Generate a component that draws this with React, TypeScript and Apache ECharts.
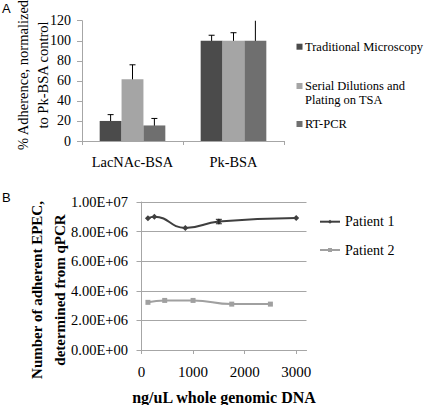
import React, { useEffect, useRef } from 'react';
import * as echarts from 'echarts';

// ---- Panel A data ----
const categoriesA = ['LacNAc-BSA', 'Pk-BSA'];
const seriesNamesA = ['Traditional Microscopy', 'Serial Dilutions and\nPlating on TSA', 'RT-PCR'];
const microscopy = [20, 100];
const microscopyErr = [6.3, 5.5];
const dilutions = [61.5, 100];
const dilutionsErr = [14.5, 8];
const rtpcr = [15.5, 100];
const rtpcrErr = [7, 30];
const yTicksA = [0, 20, 40, 60, 80, 100, 120];

// ---- Panel B data ----
const patient1X = [125, 250, 850, 1500, 3000];
const patient1Y = [8.9e6, 9.0e6, 8.25e6, 8.68e6, 8.92e6];
const patient1Err = [0, 0, 0, 1.5e5, 0];
const patient2X = [125, 450, 1000, 1750, 2500];
const patient2Y = [3.22e6, 3.35e6, 3.35e6, 3.1e6, 3.1e6];
const xTicksB = [0, 1000, 2000, 3000];
const yTicksB = [0, 2e6, 4e6, 6e6, 8e6, 1e7];

const SERIF = "'Liberation Serif'";
const SANS = "'Liberation Sans'";
const AXIS_GRAY = '#a6a6a6';
const barColors = ['#4b4b4b', '#a5a5a5', '#6f6f6f'];

const sci = (v: number) => {
  if (v === 0) return '0.00E+00';
  const e = Math.floor(Math.log10(v) + 1e-9);
  const m = v / Math.pow(10, e);
  return m.toFixed(2) + 'E+' + String(e).padStart(2, '0');
};

export default function App() {
  const ref = useRef<HTMLDivElement>(null);
  useEffect(() => {
    if (!ref.current) return;
    const chart = echarts.init(ref.current, undefined, { renderer: 'svg' });

    const barVals = [microscopy, dilutions, rtpcr];
    const barErrs = [microscopyErr, dilutionsErr, rtpcrErr];
    const errDataA: number[][] = [];
    barVals.forEach((vals, s) =>
      vals.forEach((v, c) => errDataA.push([c, v, barErrs[s][c], s]))
    );
    const errDataB: number[][] = [];
    patient1X.forEach((x, i) => {
      if (patient1Err[i] > 0) errDataB.push([x, patient1Y[i], patient1Err[i]]);
    });

    const legendAY = [46.7, 86, 124];
    const legendA: any[] = [];
    seriesNamesA.forEach((name, i) => {
      legendA.push({
        type: 'rect',
        shape: { x: 296.5, y: legendAY[i] - 3, width: 6, height: 6 },
        style: { fill: barColors[i] },
      });
      legendA.push({
        type: 'text',
        x: 305,
        y: legendAY[i] - 7,
        style: {
          text: name,
          fontFamily: SERIF,
          fontSize: 12.5,
          fill: '#000',
          textAlign: 'left',
          textVerticalAlign: 'top',
          lineHeight: 14,
        },
      });
    });

    const option: any = {
      animation: false,
      backgroundColor: '#fff',
      textStyle: { fontFamily: SERIF },
      grid: [
        { left: 82, top: 20.7, right: 141, bottom: 264, containLabel: false },
        { left: 141.5, top: 202, right: 118.5, bottom: 55, containLabel: false },
      ],
      xAxis: [
        {
          type: 'category',
          gridIndex: 0,
          data: categoriesA,
          axisLine: { lineStyle: { color: AXIS_GRAY, width: 1 } },
          axisTick: { show: true, length: 4, lineStyle: { color: AXIS_GRAY } },
          axisLabel: { fontFamily: SERIF, fontSize: 14.4, color: '#000', margin: 14, interval: 0 },
        },
        {
          type: 'value',
          gridIndex: 1,
          min: 0,
          max: 3200,
          interval: 1000,
          axisLine: { show: true, lineStyle: { color: AXIS_GRAY } },
          axisTick: { show: true, length: 4, lineStyle: { color: AXIS_GRAY }, customValues: xTicksB },
          axisLabel: {
            fontFamily: SERIF, fontSize: 15, color: '#000', margin: 14,
            customValues: xTicksB, formatter: (v: number) => String(v),
          },
          splitLine: { show: false },
        },
      ],
      yAxis: [
        {
          type: 'value',
          gridIndex: 0,
          min: yTicksA[0],
          max: yTicksA[yTicksA.length - 1],
          interval: 20,
          axisLine: { show: true, lineStyle: { color: AXIS_GRAY } },
          axisTick: { show: true, length: 5, lineStyle: { color: AXIS_GRAY } },
          axisLabel: { fontFamily: SERIF, fontSize: 14, color: '#000', margin: 11 },
          splitLine: { show: false },
        },
        {
          type: 'value',
          gridIndex: 1,
          min: yTicksB[0],
          max: yTicksB[yTicksB.length - 1],
          interval: 2e6,
          axisLine: { show: true, lineStyle: { color: AXIS_GRAY } },
          axisTick: { show: true, length: 5, lineStyle: { color: AXIS_GRAY } },
          axisLabel: { fontFamily: SERIF, fontSize: 14.5, color: '#000', margin: 13.5, formatter: sci },
          splitLine: { show: true, lineStyle: { color: AXIS_GRAY, width: 1 } },
        },
      ],
      legend: {
        data: ['Patient 1', 'Patient 2'],
        orient: 'vertical',
        left: 319,
        top: 214.7,
        padding: 0,
        itemWidth: 20,
        itemHeight: 5,
        itemGap: 14.3,
        textStyle: { fontFamily: SERIF, fontSize: 14, color: '#000' },
      },
      series: [
        ...barVals.map((vals, s) => ({
          name: seriesNamesA[s],
          type: 'bar',
          xAxisIndex: 0,
          yAxisIndex: 0,
          data: vals,
          barGap: '0%',
          barCategoryGap: '35%',
          itemStyle: { color: barColors[s] },
        })),
        {
          type: 'custom',
          xAxisIndex: 0,
          yAxisIndex: 0,
          clip: true,
          data: errDataA,
          encode: { x: 0, y: 1 },
          renderItem: (params: any, api: any) => {
            const c = api.value(0), v = api.value(1), e = api.value(2), s = api.value(3);
            const band = api.size([1, 0])[0];
            const bw = (band * (1 - 0.35)) / 3;
            const cx = api.coord([c, v])[0] + (s - 1) * bw;
            const yHi = api.coord([c, v + e])[1];
            const yLo = api.coord([c, v - e])[1];
            const cap = 3;
            const st = { stroke: '#000', lineWidth: 1 };
            return {
              type: 'group',
              children: [
                { type: 'line', shape: { x1: cx, y1: yHi, x2: cx, y2: yLo }, style: st },
                { type: 'line', shape: { x1: cx - cap, y1: yHi, x2: cx + cap, y2: yHi }, style: st },
                { type: 'line', shape: { x1: cx - cap, y1: yLo, x2: cx + cap, y2: yLo }, style: st },
              ],
            };
          },
        },
        {
          name: 'Patient 1',
          type: 'line',
          xAxisIndex: 1,
          yAxisIndex: 1,
          data: patient1X.map((x, i) => [x, patient1Y[i]]),
          smooth: true,
          symbol: 'diamond',
          symbolSize: 6,
          itemStyle: { color: '#3f3f3f' },
          lineStyle: { color: '#3f3f3f', width: 2 },
        },
        {
          name: 'Patient 2',
          type: 'line',
          xAxisIndex: 1,
          yAxisIndex: 1,
          data: patient2X.map((x, i) => [x, patient2Y[i]]),
          smooth: true,
          symbol: 'rect',
          symbolSize: 5,
          itemStyle: { color: '#a0a0a0' },
          lineStyle: { color: '#a0a0a0', width: 2 },
        },
        {
          type: 'custom',
          xAxisIndex: 1,
          yAxisIndex: 1,
          data: errDataB,
          encode: { x: 0, y: 1 },
          z: 5,
          renderItem: (params: any, api: any) => {
            const x = api.value(0), v = api.value(1), e = api.value(2);
            const cx = api.coord([x, v])[0];
            const yHi = api.coord([x, v + e])[1];
            const yLo = api.coord([x, v - e])[1];
            const cap = 3;
            const st = { stroke: '#222', lineWidth: 1 };
            return {
              type: 'group',
              children: [
                { type: 'line', shape: { x1: cx, y1: yHi, x2: cx, y2: yLo }, style: st },
                { type: 'line', shape: { x1: cx - cap, y1: yHi, x2: cx + cap, y2: yHi }, style: st },
                { type: 'line', shape: { x1: cx - cap, y1: yLo, x2: cx + cap, y2: yLo }, style: st },
              ],
            };
          },
        },
      ],
      graphic: [
        { type: 'text', x: 2, y: 8, style: { text: 'A', fontFamily: SANS, fontSize: 13, fill: '#000', textVerticalAlign: 'middle' } },
        { type: 'text', x: 2, y: 197, style: { text: 'B', fontFamily: SANS, fontSize: 13, fill: '#000', textVerticalAlign: 'middle' } },
        {
          type: 'text', x: 22.7, y: 75, rotation: Math.PI / 2,
          style: { text: '% Adherence, normalized', fontFamily: SERIF, fontSize: 14.5, fill: '#000', textAlign: 'center', textVerticalAlign: 'middle' },
        },
        {
          type: 'text', x: 42.7, y: 75, rotation: Math.PI / 2,
          style: { text: 'to Pk-BSA control', fontFamily: SERIF, fontSize: 14.5, fill: '#000', textAlign: 'center', textVerticalAlign: 'middle' },
        },
        {
          type: 'text', x: 37, y: 290, rotation: Math.PI / 2,
          style: { text: 'Number of adherent EPEC,', fontFamily: SERIF, fontWeight: 'bold', fontSize: 15, fill: '#000', textAlign: 'center', textVerticalAlign: 'middle' },
        },
        {
          type: 'text', x: 60, y: 290, rotation: Math.PI / 2,
          style: { text: 'determined from qPCR', fontFamily: SERIF, fontWeight: 'bold', fontSize: 15, fill: '#000', textAlign: 'center', textVerticalAlign: 'middle' },
        },
        {
          type: 'text', x: 224, y: 397,
          style: { text: 'ng/uL whole genomic DNA', fontFamily: SERIF, fontWeight: 'bold', fontSize: 16, fill: '#000', textAlign: 'center', textVerticalAlign: 'middle' },
        },
        ...legendA,
      ],
    };
    chart.setOption(option);
    return () => chart.dispose();
  }, []);
  return <div ref={ref} style={{ position: 'absolute', left: 0, top: 0, width: 425, height: 405 }} />;
}
